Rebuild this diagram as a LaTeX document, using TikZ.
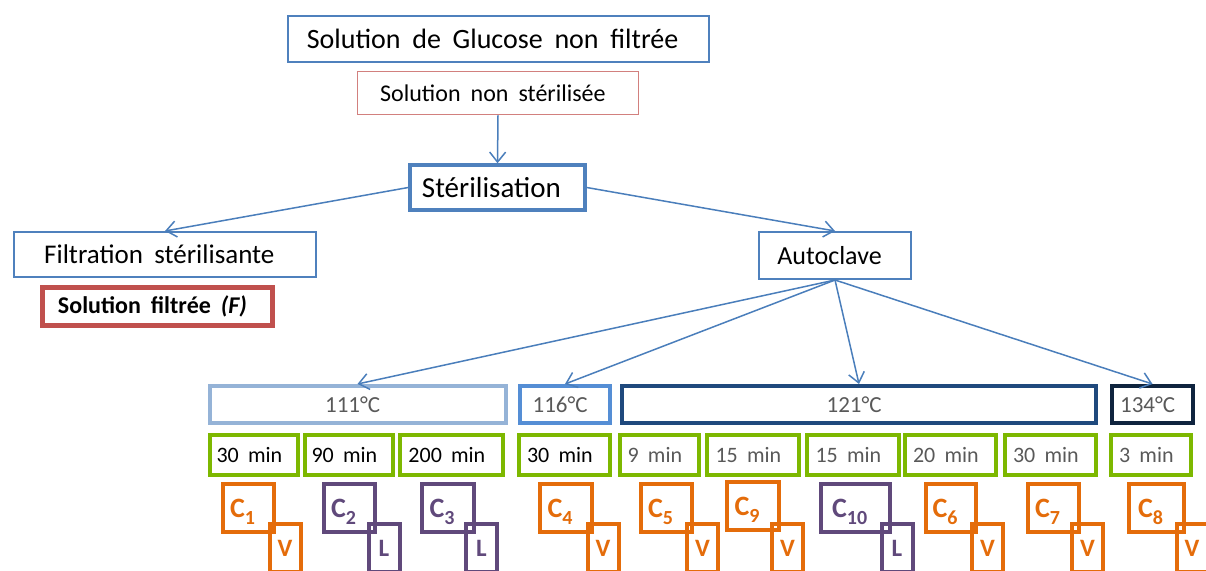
\documentclass[tikz,border=0pt]{standalone}
\usepackage{fontspec}
\setmainfont{Carlito}
\usetikzlibrary{arrows.meta}

\definecolor{boxblue}{RGB}{79,129,189}
\definecolor{arrowblue}{RGB}{74,126,187}
\definecolor{lightred}{RGB}{210,128,126}
\definecolor{darkred}{RGB}{192,80,77}
\definecolor{temponze}{RGB}{149,179,215}
\definecolor{tempseize}{RGB}{85,142,213}
\definecolor{tempvingt}{RGB}{31,73,125}
\definecolor{temptrente}{RGB}{15,36,62}
\definecolor{limegreen}{RGB}{125,184,0}
\definecolor{orangec}{RGB}{228,108,10}
\definecolor{purplec}{RGB}{96,73,123}
\definecolor{greytext}{RGB}{89,89,89}

\newcommand{\Csub}[1]{C\raisebox{-7pt}[0pt][0pt]{\fontsize{20}{20}\selectfont #1}}

\tikzset{
    trail/.style={execute at begin node={\spaceskip=0.42em\relax}, execute at end node={\hspace{0.42em}}},
    thinbox/.style={draw=boxblue, line width=1.5pt, inner sep=0pt, trail},
    tempbox/.style={line width=4pt, inner sep=0pt, minimum height=37pt, text=greytext, font=\fontsize{23}{25}\selectfont, trail},
    timebox/.style={draw=limegreen, line width=4.5pt, inner sep=0pt, minimum height=40pt, font=\fontsize{22}{24}\selectfont, trail},
    cbox/.style={line width=4.5pt, inner sep=0pt, minimum height=48pt, font=\bfseries\fontsize{28}{30}\selectfont, trail},
    vbox/.style={line width=4pt, inner sep=0pt, minimum width=31pt, minimum height=48pt, font=\bfseries\fontsize{25}{27}\selectfont},
    link/.style={draw=arrowblue, line width=1.5pt, -{Straight Barb[length=10pt,width=16pt]}}
}

\begin{document}
\begin{tikzpicture}[x=1pt,y=-1pt]
    \useasboundingbox (0,0) rectangle (1206,570);
    \clip (0,0) rectangle (1206,570);

    % haut de l'arbre
    \node[thinbox, minimum width=421pt, minimum height=46pt, font=\fontsize{28}{30}\selectfont] (glucose) at (498.5,39) {Solution de Glucose non filtrée};
    \node[thinbox, draw=lightred, minimum width=281pt, minimum height=43pt, font=\fontsize{24}{26}\selectfont] (nonsterile) at (498,93) {Solution non stérilisée};
    \node[thinbox, line width=3.5pt, minimum width=175pt, minimum height=45pt, font=\fontsize{29}{31}\selectfont] (sterilisation) at (497.5,187.5) {Stérilisation};
    \node[thinbox, line width=2pt, minimum width=302pt, minimum height=45pt, font=\fontsize{27}{29}\selectfont] (filtration) at (165,254.5) {Filtration stérilisante};
    \node[draw=darkred, line width=4.5pt, inner sep=0pt, minimum width=230pt, minimum height=38pt, font=\bfseries\fontsize{24}{26}\selectfont, trail] (filtree) at (157.5,306.5) {Solution filtrée \textit{(F)}};
    \node[thinbox, line width=2pt, minimum width=152pt, minimum height=47pt, font=\fontsize{26}{28}\selectfont] (autoclave) at (835,255.5) {Autoclave};

    \draw[link] (nonsterile.south) -- (sterilisation.north);
    \draw[link] (sterilisation.west) -- (filtration.north);
    \draw[link] (sterilisation.east) -- (autoclave.north);

    % temperatures
    \node[tempbox, draw=temponze, minimum width=296pt] (t111) at (357.5,404.5) {111°C};
    \node[tempbox, draw=tempseize, minimum width=90pt] (t116) at (565,404.5) {116°C};
    \node[tempbox, draw=tempvingt, minimum width=474pt] (t121) at (859,404.5) {121°C};
    \node[tempbox, draw=temptrente, minimum width=81pt] (t134) at (1152.5,404.5) {134°C};

    \draw[link] (autoclave.south) -- (t111.north);
    \draw[link] (autoclave.south) -- (t116.north);
    \draw[link] (autoclave.south) -- (t121.north);
    \draw[link] (autoclave.south) -- (t134.north);

    % durees
    \node[timebox, minimum width=88pt] (m1) at (254,455) {30 min};
    \node[timebox, minimum width=88pt] (m2) at (349,455) {90 min};
    \node[timebox, minimum width=103pt] (m3) at (451.5,455) {200 min};
    \node[timebox, minimum width=91pt] (m4) at (564.5,455) {30 min};
    \node[timebox, text=greytext, minimum width=79pt] (m5) at (659.5,455) {9 min};
    \node[timebox, text=greytext, minimum width=92pt] (m6) at (753,455) {15 min};
    \node[timebox, text=greytext, minimum width=92pt] (m7) at (853,455) {15 min};
    \node[timebox, text=greytext, minimum width=91pt] (m8) at (950.5,455) {20 min};
    \node[timebox, text=greytext, minimum width=91pt] (m9) at (1050.5,455) {30 min};
    \node[timebox, text=greytext, minimum width=80pt] (m10) at (1151,455) {3 min};

    % echantillons
    \node[cbox, draw=orangec, text=orangec, minimum width=51pt] (c1) at (248.5,508) {\Csub{1}};
    \node[vbox, draw=orangec, text=orangec] (v1) at (285,548) {V};
    \node[cbox, draw=purplec, text=purplec, minimum width=51pt] (c2) at (349.5,508) {\Csub{2}};
    \node[vbox, draw=purplec, text=purplec] (l2) at (384,548) {L};
    \node[cbox, draw=purplec, text=purplec, minimum width=52pt] (c3) at (448,508) {\Csub{3}};
    \node[vbox, draw=purplec, text=purplec] (l3) at (481.5,548) {L};
    \node[cbox, draw=orangec, text=orangec, minimum width=52pt] (c4) at (566,508) {\Csub{4}};
    \node[vbox, draw=orangec, text=orangec] (v4) at (603,548) {V};
    \node[cbox, draw=orangec, text=orangec, minimum width=51pt] (c5) at (666.5,508) {\Csub{5}};
    \node[vbox, draw=orangec, text=orangec] (v5) at (702.5,548) {V};
    \node[cbox, draw=orangec, text=orangec, minimum width=52pt] (c9) at (753,506) {\Csub{9}};
    \node[vbox, draw=orangec, text=orangec] (v9) at (787.5,548) {V};
    \node[cbox, draw=purplec, text=purplec, minimum width=69pt] (c10) at (855.5,508) {\Csub{10}};
    \node[vbox, draw=purplec, text=purplec] (l10) at (897,548) {L};
    \node[cbox, draw=orangec, text=orangec, minimum width=50pt] (c6) at (951,508) {\Csub{6}};
    \node[vbox, draw=orangec, text=orangec] (v6) at (987.5,548) {V};
    \node[cbox, draw=orangec, text=orangec, minimum width=51pt] (c7) at (1053.5,508) {\Csub{7}};
    \node[vbox, draw=orangec, text=orangec] (v7) at (1087.5,548) {V};
    \node[cbox, draw=orangec, text=orangec, minimum width=55pt] (c8) at (1156.5,508) {\Csub{8}};
    \node[vbox, draw=orangec, text=orangec] (v8) at (1192,548) {V};
\end{tikzpicture}
\end{document}
